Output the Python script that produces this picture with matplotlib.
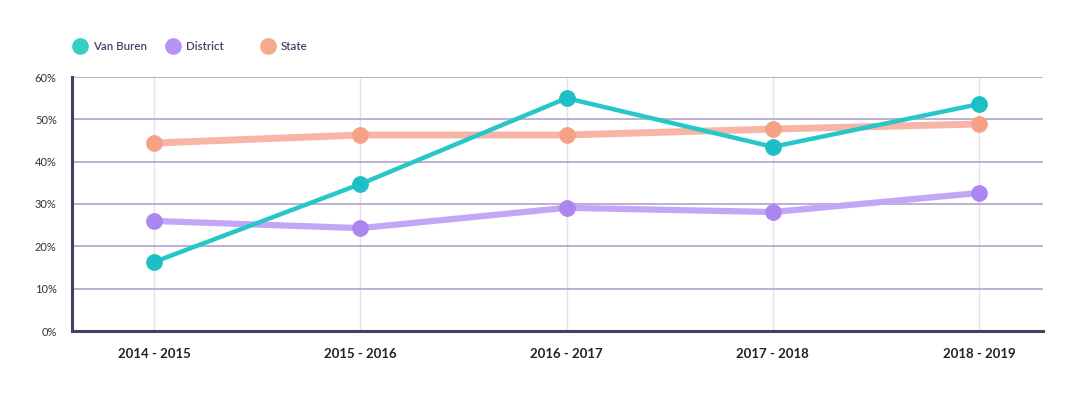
import matplotlib
matplotlib.use("Agg")
import matplotlib.pyplot as plt
from matplotlib.lines import Line2D

categories = ["2014 - 2015", "2015 - 2016", "2016 - 2017", "2017 - 2018", "2018 - 2019"]
van_buren = [16.3, 34.7, 55.0, 43.5, 53.6]
district = [26.0, 24.3, 29.1, 28.1, 32.6]
state = [44.4, 46.3, 46.3, 47.7, 48.9]
y_ticks = [0, 10, 20, 30, 40, 50, 60]
y_labels = ["0%", "10%", "20%", "30%", "40%", "50%", "60%"]
series_names = ["Van Buren", "District", "State"]

plt.rcParams['font.family'] = ['Lato', 'DejaVu Sans']

W, H = 1080, 397
fig = plt.figure(figsize=(W / 100, H / 100), dpi=100)
left, right, bottom, top = 72, 1043, 331, 77
ax = fig.add_axes([left / W, 1 - bottom / H, (right - left) / W, (bottom - top) / H])

x = list(range(len(categories)))
ax.set_xlim(-0.398, 4.31)
ax.set_ylim(0, 60)

grid_c = "#a99dc2"
for t in y_ticks[1:]:
    ax.axhline(t, color=grid_c, lw=1.1, zorder=1)
for xi in x:
    ax.axvline(xi, color="#e4e0ee", lw=1.0, zorder=0)

line_specs = [
    (state, "#f6b5a6", 5.0, "#f4a186"),
    (district, "#c4a6f6", 4.5, "#ab86f0"),
    (van_buren, "#27c6c8", 3.2, "#1cbfc6"),
]
for vals, lc, lw, mc in line_specs:
    ax.plot(x, vals, color=lc, lw=lw, zorder=3, solid_capstyle='round')
    ax.plot(x, vals, ls='none', marker='o', ms=11.5, mfc=mc, mec=mc, mew=0.5, zorder=4)

ax.set_yticks(y_ticks)
ax.set_yticklabels(y_labels, fontsize=8, color="#333333")
ax.set_xticks(x)
ax.set_xticklabels(categories, fontsize=9.5, fontweight='bold', color="#222222")
ax.tick_params(axis='both', length=0)
ax.tick_params(axis='y', pad=11)
ax.tick_params(axis='x', pad=12)

for s in ['top', 'right']:
    ax.spines[s].set_visible(False)
spine_c = "#4b3b66"
ax.spines['left'].set_color(spine_c)
ax.spines['left'].set_linewidth(2.2)
ax.spines['bottom'].set_color(spine_c)
ax.spines['bottom'].set_linewidth(2.2)

# legend
leg = [(80, series_names[0], "#35cfc6"), (173, series_names[1], "#b594f4"), (268, series_names[2], "#f5a98f")]
ly = 1 - 46 / H
for px, name, c in leg:
    fig.add_artist(Line2D([px / W], [ly], marker='o', ms=11, mfc=c, mec=c, ls='none',
                          transform=fig.transFigure))
    fig.text((px + 13) / W, ly, name, fontsize=8.3, color="#4a3d68", va='center', ha='left',
             fontweight='semibold')

fig.savefig("out.png", dpi=100, facecolor='white')
